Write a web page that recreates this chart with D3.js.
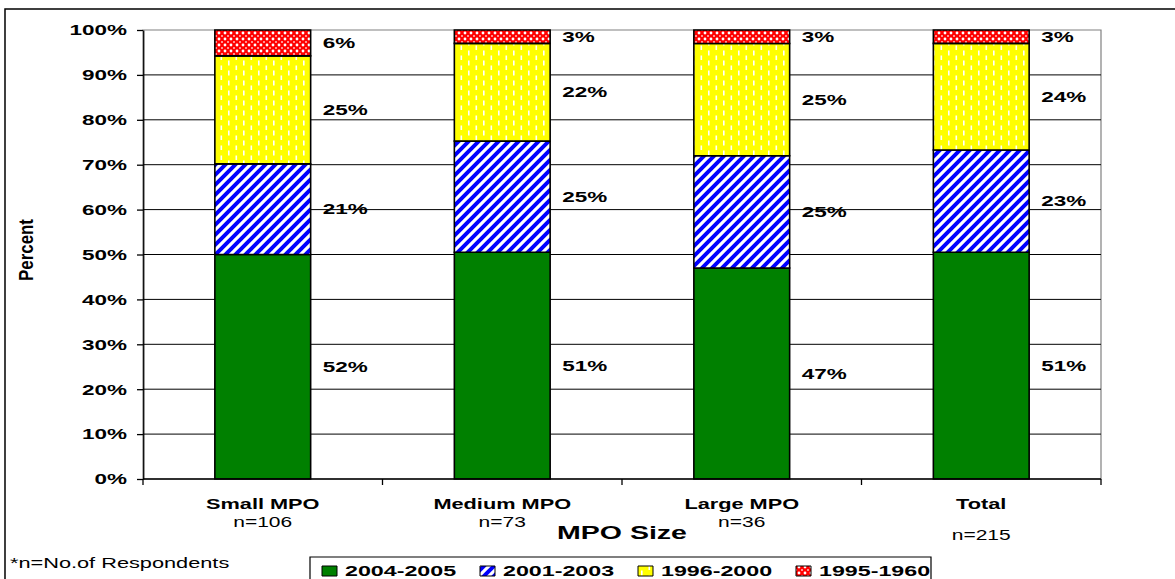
<!DOCTYPE html>
<html><head><meta charset="utf-8">
<script src="https://cdn.jsdelivr.net/npm/d3@7"></script>
<style>html,body{margin:0;padding:0;background:#fff;overflow:hidden}</style>
</head><body>
<svg id="chart"></svg>
<script>
// ---- data ----
const categories = ["Small MPO", "Medium MPO", "Large MPO", "Total"];
const respondents = ["n=106", "n=73", "n=36", "n=215"];
const seriesNames = ["2004-2005", "2001-2003", "1996-2000", "1995-1960"];
const values2004_2005 = [52, 51, 47, 51];
const values2001_2003 = [21, 25, 25, 23];
const values1996_2000 = [25, 22, 25, 24];
const values1995_1960 = [6, 3, 3, 3];
const yTickValues = [0, 0.1, 0.2, 0.3, 0.4, 0.5, 0.6, 0.7, 0.8, 0.9, 1];
const footnote = "*n=No.of Respondents";
const xTitle = "MPO Size";
const yTitle = "Percent";

// ---- setup (chart is drawn in a horizontally stretched space) ----
const W = 1175, H = 579, S = 1.5, VW = W / S;
const px = v => v / S;
const FONT = "'Liberation Sans', Arial, sans-serif";
const svg = d3.select("#chart")
  .attr("width", W).attr("height", H)
  .attr("viewBox", `0 0 ${VW} ${H}`)
  .attr("preserveAspectRatio", "none")
  .style("display", "block");

const table = categories.map((c, i) => ({
  category: c,
  [seriesNames[0]]: values2004_2005[i],
  [seriesNames[1]]: values2001_2003[i],
  [seriesNames[2]]: values1996_2000[i],
  [seriesNames[3]]: values1995_1960[i]
}));
const stacked = d3.stack().keys(seriesNames).offset(d3.stackOffsetExpand)(table);

const plotL = px(143), plotR = px(1101), plotT = 30, plotB = 479;
const x = d3.scaleBand().domain(categories).range([plotL, plotR]).paddingInner(0.6).paddingOuter(0.3);
const y = d3.scaleLinear().domain([0, 1]).range([plotB, plotT]);

// ---- patterns ----
const defs = svg.append("defs");
// blue diagonal stripes
{
  const w = px(10), h = 10;
  const p = defs.append("pattern").attr("id", "pBlue").attr("patternUnits", "userSpaceOnUse")
    .attr("width", w).attr("height", h);
  p.append("rect").attr("width", w).attr("height", h).attr("fill", "#fff");
  const a = 0.35;
  p.append("path")
    .attr("d", `M0,${h} L${w},0 M${-a*w},${a*h} L${a*w},${-a*h} M${w-a*w},${h+a*h} L${w+a*w},${h-a*h}`)
    .attr("stroke", "#0000ff").attr("stroke-width", 3.1);
}
// yellow with white dashes
{
  const w = px(15), h = 10;
  const p = defs.append("pattern").attr("id", "pYellow").attr("patternUnits", "userSpaceOnUse")
    .attr("width", w).attr("height", h);
  p.append("rect").attr("width", w).attr("height", h).attr("fill", "#ffff00");
  p.append("rect").attr("x", px(3)).attr("y", 0.5).attr("width", px(1.6)).attr("height", 5).attr("fill", "#fff");
  p.append("rect").attr("x", px(10.5)).attr("y", 5.5).attr("width", px(1.6)).attr("height", 5).attr("fill", "#fff");
}
// red with white lattice
{
  const w = px(6), h = 6;
  const p = defs.append("pattern").attr("id", "pRed").attr("patternUnits", "userSpaceOnUse")
    .attr("width", w).attr("height", h);
  p.append("rect").attr("width", w).attr("height", h).attr("fill", "#ff0000");
  p.append("ellipse").attr("cx", w/2).attr("cy", h/2).attr("rx", px(1.4)).attr("ry", 1.4).attr("fill", "#fff");
  [[0,0],[w,0],[0,h],[w,h]].forEach(([cx,cy]) =>
    p.append("ellipse").attr("cx", cx).attr("cy", cy).attr("rx", px(1)).attr("ry", 1).attr("fill", "#ffc0c0"));
}
const fills = ["#008000", "url(#pBlue)", "url(#pYellow)", "url(#pRed)"];

// ---- outer frame ----
svg.append("rect").attr("x", px(5)).attr("y", 9).attr("width", VW + 20).attr("height", H + 20)
  .attr("fill", "#fff").attr("stroke", "#000").attr("stroke-width", 1.5).attr("vector-effect", "non-scaling-stroke");

// ---- plot area border & gridlines ----
svg.append("rect").attr("x", plotL).attr("y", plotT).attr("width", plotR - plotL).attr("height", plotB - plotT)
  .attr("fill", "#fff").attr("stroke", "#808080").attr("stroke-width", 1.2).attr("vector-effect", "non-scaling-stroke");
svg.append("g").selectAll("line").data(yTickValues.filter(t => t > 0 && t < 1)).join("line")
  .attr("x1", plotL).attr("x2", plotR).attr("y1", d => y(d)).attr("y2", d => y(d))
  .attr("stroke", "#000").attr("stroke-width", 1).attr("vector-effect", "non-scaling-stroke");

// ---- bars ----
const layers = svg.append("g").selectAll("g").data(stacked).join("g")
  .attr("fill", (d, i) => fills[i]);
layers.selectAll("rect").data(d => d).join("rect")
  .attr("x", d => x(d.data.category))
  .attr("y", d => y(d[1]))
  .attr("width", x.bandwidth())
  .attr("height", d => y(d[0]) - y(d[1]))
  .attr("stroke", "#000").attr("stroke-width", 1.6).attr("vector-effect", "non-scaling-stroke");

// ---- value labels ----
const labelG = svg.append("g").attr("font-family", FONT).attr("font-weight", "bold").attr("font-size", 15);
stacked.forEach(layer => {
  labelG.selectAll(null).data(layer).join("text")
    .attr("x", d => x(d.data.category) + x.bandwidth() + px(12))
    .attr("y", d => (y(d[0]) + y(d[1])) / 2)
    .attr("dominant-baseline", "central")
    .text(d => d.data[layer.key] + "%");
});

// ---- y axis ----
const yAxis = svg.append("g").attr("transform", `translate(${plotL},0)`)
  .call(d3.axisLeft(y).tickValues(yTickValues).tickFormat(d3.format(".0%")).tickSize(px(6)).tickSizeOuter(0).tickPadding(px(10)));
yAxis.selectAll("path, line").attr("stroke", "#000").attr("stroke-width", 1.3).attr("vector-effect", "non-scaling-stroke");
yAxis.selectAll("text").attr("font-family", FONT).attr("font-weight", "bold").attr("font-size", 15).attr("fill", "#000");

// ---- x axis ----
const step = x.step();
const bounds = d3.range(categories.length + 1).map(i => plotL + i * step);
svg.append("line").attr("x1", plotL).attr("x2", plotR).attr("y1", plotB).attr("y2", plotB)
  .attr("stroke", "#000").attr("stroke-width", 1.3).attr("vector-effect", "non-scaling-stroke");
svg.append("g").selectAll("line").data(bounds).join("line")
  .attr("x1", d => d).attr("x2", d => d).attr("y1", plotB).attr("y2", plotB + 6)
  .attr("stroke", "#000").attr("stroke-width", 1.3).attr("vector-effect", "non-scaling-stroke");

const xl = svg.append("g").attr("font-family", FONT).attr("text-anchor", "middle").attr("fill", "#000");
xl.selectAll(".cat").data(categories).join("text").attr("class", "cat")
  .attr("x", d => x(d) + x.bandwidth() / 2).attr("y", 509)
  .attr("font-weight", "bold").attr("font-size", 14.5).text(d => d);
xl.selectAll(".resp").data(respondents).join("text").attr("class", "resp")
  .attr("x", (d, i) => x(categories[i]) + x.bandwidth() / 2)
  .attr("y", (d, i) => i === categories.length - 1 ? 540 : 527)
  .attr("font-size", 14).text(d => d);

// ---- axis titles ----
svg.append("text").attr("x", (plotL + plotR) / 2).attr("y", 539)
  .attr("text-anchor", "middle").attr("font-family", FONT).attr("font-weight", "bold").attr("font-size", 19)
  .text(xTitle);
svg.append("text").attr("transform", `translate(${px(33)},250) rotate(-90)`)
  .attr("text-anchor", "middle").attr("font-family", FONT).attr("font-weight", "bold").attr("font-size", 14)
  .attr("textLength", 62).attr("lengthAdjust", "spacingAndGlyphs")
  .text(yTitle);

// ---- footnote ----
svg.append("text").attr("x", px(10)).attr("y", 568).attr("font-family", FONT).attr("font-size", 14.5).text(footnote);

// ---- legend ----
const lg = svg.append("g");
lg.append("rect").attr("x", px(310)).attr("y", 557).attr("width", px(931 - 310)).attr("height", 40)
  .attr("fill", "#fff").attr("stroke", "#000").attr("stroke-width", 1.2).attr("vector-effect", "non-scaling-stroke");
const items = lg.selectAll(".item").data(seriesNames).join("g").attr("class", "item")
  .attr("transform", (d, i) => `translate(${px(322 + i * 158)},0)`);
items.append("rect").attr("x", 0).attr("y", 566).attr("width", px(15)).attr("height", 10)
  .attr("fill", (d, i) => fills[i]).attr("stroke", "#000").attr("stroke-width", 1).attr("vector-effect", "non-scaling-stroke");
items.append("text").attr("x", px(23)).attr("y", 576.5).attr("font-family", FONT).attr("font-weight", "bold")
  .attr("font-size", 15.5).text(d => d);
</script>
</body></html>
